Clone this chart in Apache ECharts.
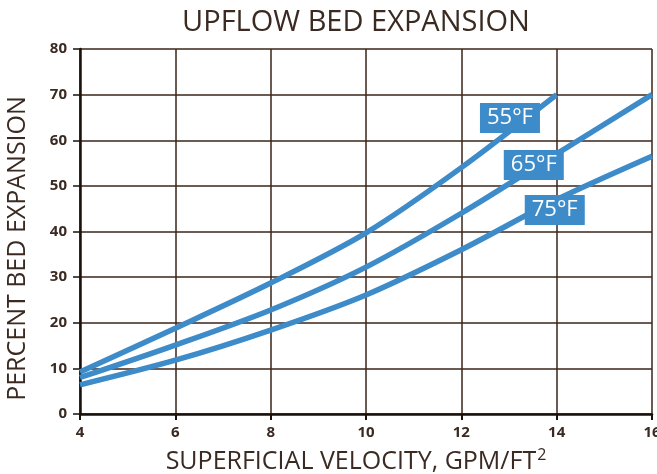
<!DOCTYPE html>
<html>
<head>
<meta charset="utf-8">
<script src="https://cdn.jsdelivr.net/npm/echarts@6/dist/echarts.min.js"></script>
<style>
  html, body { margin: 0; padding: 0; background: #fff; }
  #chart { width: 657px; height: 474px; }
</style>
</head>
<body>
<div id="chart"></div>
<script>
// values
const velocity55 = [4, 6, 8, 10, 12, 14];
const expansion55 = [9.2, 18.8, 28.7, 39.7, 54, 70];
const velocity65 = [4, 6, 8, 10, 12, 14, 16];
const expansion65 = [8, 15.1, 22.8, 32.2, 44, 57, 70];
const velocity75 = [4, 6, 8, 10, 12, 14, 16];
const expansion75 = [6.4, 11.8, 18.4, 26.1, 36, 47, 56.5];

// temperature tags, placed in data units
const tagNames = ["55°F", "65°F", "75°F"];
const tagX = [13.02, 13.52, 13.96];
const tagY = [64.9, 54.6, 44.7];

const blue = "#3d8bc8";
const ink = "#3a2a22";
const gridInk = "#3b2418";

const pairs = (xs, ys) => xs.map((x, i) => [x, ys[i]]);

const chart = echarts.init(document.getElementById("chart"), null, { renderer: "canvas" });

function curve(name, xs, ys, tagIndex) {
  return {
    name,
    type: "line",
    smooth: 0.3,
    showSymbol: false,
    lineStyle: { width: 5.5, color: blue },
    data: pairs(xs, ys),
    markPoint: {
      symbol: "rect",
      symbolSize: [60, 30],
      itemStyle: { color: blue },
      label: {
        show: true,
        color: "#fff",
        fontFamily: "Open Sans",
        fontSize: 22,
        formatter: tagNames[tagIndex],
      },
      data: [{ coord: [tagX[tagIndex], tagY[tagIndex]] }],
    },
    z: 3,
  };
}

chart.setOption({
  animation: false,
  backgroundColor: "#fff",
  title: {
    text: "UPFLOW BED EXPANSION",
    left: 351,
    textAlign: "center",
    top: 3,
    textStyle: { fontFamily: "Open Sans", fontWeight: "normal", fontSize: 29, color: ink },
  },
  grid: { left: 80, right: 5, top: 49, bottom: 60, outerBoundsMode: "none" },
  xAxis: {
    type: "value",
    min: 4,
    max: 16,
    interval: 2,
    name: "{a|SUPERFICIAL VELOCITY, GPM/FT}{s|2}",
    nameLocation: "middle",
    nameGap: 33,
    nameTextStyle: {
      padding: [0, 20, 0, 0],
      rich: {
        a: { fontFamily: "Open Sans", fontSize: 25, color: ink },
        s: { fontFamily: "Open Sans", fontSize: 16, color: ink, padding: [0, 0, 13, 1] },
      },
    },
    axisLine: { show: true, onZero: false, lineStyle: { color: "#1a100c", width: 2.5 } },
    axisTick: { show: true, length: 6, lineStyle: { color: "#1a100c", width: 2 } },
    axisLabel: { color: ink, fontFamily: "Open Sans", fontWeight: "bold", fontSize: 15, margin: 11 },
    splitLine: { show: true, lineStyle: { color: gridInk, width: 1.5 } },
  },
  yAxis: {
    type: "value",
    min: 0,
    max: 80,
    interval: 10,
    name: "PERCENT BED EXPANSION",
    nameLocation: "middle",
    nameGap: 50,
    nameTextStyle: { fontFamily: "Open Sans", fontSize: 25, color: ink, padding: [0, 34, 0, 0] },
    axisLine: { show: true, lineStyle: { color: "#1a100c", width: 2.5 } },
    axisTick: { show: true, length: 7, lineStyle: { color: "#1a100c", width: 1.5 } },
    axisLabel: { color: ink, fontFamily: "Open Sans", fontWeight: "bold", fontSize: 15, margin: 13 },
    splitLine: { show: true, lineStyle: { color: gridInk, width: 1.5 } },
  },
  series: [
    curve("55°F", velocity55, expansion55, 0),
    curve("65°F", velocity65, expansion65, 1),
    curve("75°F", velocity75, expansion75, 2),
  ],
});
</script>
</body>
</html>
